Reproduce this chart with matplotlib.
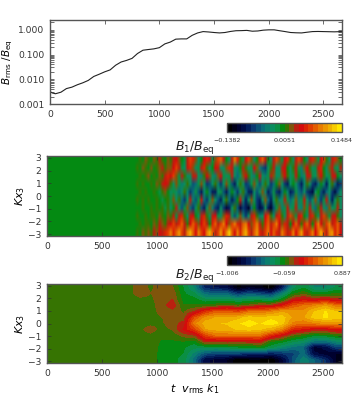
#!/usr/bin/env python3
"""Field growth: rms field history and two space-time maps. Saves out.png."""
import numpy as np
import matplotlib
matplotlib.use("Agg")
import matplotlib.pyplot as plt
from matplotlib.colors import LinearSegmentedColormap

# top panel
t_rms = [0, 20, 50, 100, 150, 200, 250, 300, 350, 400, 450, 500, 550, 600, 650,
         700, 750, 800, 850, 900, 950, 1000, 1050, 1100, 1150, 1200, 1250, 1300,
         1350, 1400, 1450, 1500, 1550, 1600, 1650, 1700, 1750, 1800, 1850, 1900,
         1950, 2000, 2050, 2100, 2150, 2200, 2250, 2300, 2350, 2400, 2450, 2500,
         2550, 2600, 2670]
b_rms = [.0032, .0028, .0026, .003, .0042, .0048, .006, .0072, .009, .013, .016,
         .02, .024, .037, .05, .058, .07, .11, .15, .16, .17, .19, .27, .32, .42,
         .43, .43, .6, .75, .85, .82, .78, .75, .78, .86, .92, .93, .95, .88, .9,
         .97, 1.0, 1.0, .92, .85, .78, .76, .75, .8, .85, .86, .85, .84, .83, .85]

# B1 map in units of 0.01, rows from the top of the panel down, columns t=800.. by 25
b1_rows = [
    [0,1,0,2,1,0,2,1,3,1,0,2,  1,3,5,2,0,-1,4,7,6,2,  -2,0,5,6,3,-1,2,7,8,3,  0,-2,4,9,6,1,-1,5,7,2,
     -3,0,6,8,4,0,-2,3,7,2,  -1,5,6,1,-3,4,7,3,0,-2,  3,6,2,-1,5,7,1,-2,4,6,  2,0],
    [1,0,2,1,0,2,0,1,2,3,1,2,  2,5,7,3,-1,-2,3,6,2,-3,  -1,4,6,1,-3,0,5,3,-2,-3,  2,6,3,-2,-4,0,4,1,-3,-1,
     5,2,-4,-6,-7,-3,1,4,-2,-3,  3,5,0,-3,1,4,-1,-4,2,5,  1,-3,-1,4,6,0,-3,2,4,-1,  -2,3],
    [0,1,0,1,2,0,1,0,2,1,4,6,  5,7,2,-1,3,1,-3,-2,4,3,  -2,-4,1,5,2,-3,-4,2,5,-1,  -3,-1,3,-2,-5,-3,2,5,1,-3,
     -4,0,3,-2,-4,-1,4,2,-3,-2,  2,5,1,-3,-1,3,0,-4,-2,3,  4,-1,-3,2,5,1,-3,-1,3,5,  0,-2],
    [1,0,1,0,0,1,0,2,1,3,5,3,  1,-2,2,-1,-4,-3,1,-2,-6,-5,  -1,2,-3,-7,-6,-2,1,-4,-7,-3,  2,-1,-6,-8,-3,1,-3,-7,-6,-1,
     2,-3,-6,-3,1,-2,-7,-5,0,2,  -3,-7,-8,-3,0,-2,-6,-8,-4,1,  -3,-7,-9,-5,0,-4,-8,-3,1,-5,  -9,-7],
    [0,1,0,1,0,0,1,0,-1,1,2,0,  -2,-1,-3,-5,-2,1,-4,-7,-5,-1,  -6,-8,-4,0,-5,-8,-9,-3,-1,-6,  -9,-5,0,-4,-7,-3,1,-5,-9,-8,
     -2,-6,-3,2,-4,-8,-6,-1,-7,-9,  -5,0,-4,-9,-7,-1,-5,-6,-2,-7,  -9,-10,-3,0,-6,-9,-5,-2,-7,-10,  -6,-3],
    [1,0,1,0,1,0,0,1,0,-1,0,1,  -1,2,-3,1,-5,-7,-2,3,-4,-6,  -1,3,-5,-7,-2,2,-3,-6,-8,-2,  1,-5,-8,-6,0,3,-4,-8,-3,2,
     -3,-7,-9,-2,2,-5,-8,-3,1,-4,  -2,3,-1,-5,-2,2,-4,-1,3,-3,  -6,-2,2,-4,-7,-1,3,-4,-8,-3,  1,-2],
    [0,0,1,0,0,1,0,1,0,1,-1,1,  -2,0,3,-3,-6,-1,2,-5,-7,-2,  1,-6,-8,-3,2,-4,-7,-9,-3,-7,  -10,-8,-2,1,-6,-10,-7,-9,-11,-5,
     0,-7,-10,-8,-3,-9,-11,-6,-1,2,  -4,-1,3,-3,-1,4,-2,-4,2,-1,  3,-3,-5,1,4,-2,-4,2,-3,-1,  3,-2],
    [1,0,0,1,0,1,1,0,2,1,0,2,  1,3,-1,4,6,1,-2,3,5,0,  -2,4,6,1,-3,3,5,-1,-3,2,  6,3,-3,-6,-2,2,-4,-7,-3,3,
     6,1,-4,-2,5,7,1,-2,3,6,  1,-2,4,7,2,-1,5,6,0,-3,  3,6,1,-2,4,7,2,-1,3,5,  1,-2],
    [0,1,0,1,1,0,2,1,3,2,1,3,  5,7,3,6,8,4,1,5,8,6,  2,5,7,3,0,6,8,4,7,9,  5,2,7,9,6,3,8,10,5,2,
     7,9,4,1,6,8,3,7,9,5,  2,6,4,0,5,8,3,1,6,8,  4,0,6,9,5,2,7,9,4,6,  8,3],
    [1,0,2,1,2,1,3,2,5,4,6,7,  9,6,8,11,7,4,9,12,8,5,  10,7,5,9,12,8,4,7,11,6,  9,13,8,5,10,6,9,12,7,4,
     8,11,6,3,7,10,5,8,6,4,  9,7,3,6,10,5,8,11,6,3,  7,10,5,8,12,7,4,9,11,6,  8,5],
]
b1_quiet_columns = 32  # t=0..800 is flat

# B2 map, rows from x3=3 to x3=-3 by 0.5, one list per time t=800..2600 by 100
b2_columns = [
    [.05, .05, .01, 0, 0, 0, 0, 0, 0, 0, 0, 0, 0],
    [.01, .02, .01, 0, 0, 0, 0, .06, 0, 0, 0, 0, 0],
    [.05, .06, .05, .05, .04, .02, .01, -.01, -.04, -.07, -.09, -.10, -.10],
    [.03, .08, .10, .17, .07, .05, .06, .03, -.03, -.07, -.11, -.12, -.12],
    [-.14, -.12, -.09, -.05, .01, .05, .14, .20, .05, -.06, -.12, -.14, -.16],
    [-.32, -.20, -.10, -.05, .12, .42, .55, .36, .10, -.10, -.20, -.32, -.42],
    [-.65, -.42, -.20, -.04, .32, .60, .70, .64, .38, .13, -.20, -.50, -.75],
    [-.70, -.45, -.20, 0, .44, .66, .72, .68, .50, .12, -.20, -.55, -.80],
    [-.75, -.45, -.20, .05, .44, .66, .74, .70, .50, .14, -.18, -.55, -.85],
    [-.95, -.60, -.25, 0, .38, .70, .80, .74, .50, .12, -.15, -.55, -1.0],
    [-.85, -.50, -.20, .05, .50, .78, .85, .78, .50, .14, -.15, -.60, -.95],
    [-.90, -.55, -.20, .12, .50, .74, .80, .74, .50, .17, -.10, -.60, -.95],
    [-1.0, -.60, -.25, .12, .55, .78, .87, .68, .30, -.05, -.20, -.65, -1.0],
    [-.70, -.35, -.10, .24, .64, .78, .78, .55, .17, -.10, -.30, -.60, -.80],
    [-.25, -.08, .15, .42, .60, .64, .55, .30, .02, -.20, -.40, -.55, -.50],
    [-.15, 0, .20, .50, .60, .64, .50, .24, -.05, -.25, -.45, -.40, -.30],
    [-.30, -.12, .15, .55, .74, .78, .55, .17, -.12, -.40, -.80, -.75, -.45],
    [-.30, -.10, .20, .64, .82, .82, .60, .17, -.10, -.40, -.75, -.80, -.60],
    [-.20, -.05, .12, .50, .74, .78, .60, .24, -.05, -.30, -.55, -.85, -.85],
]
b2_quiet_columns = 8  # t=0..800 is flat

b1_range = [-0.1382, 0.0051, 0.1484]
b2_range = [-1.006, -0.059, 0.887]
x_ticks = [0, 500, 1000, 1500, 2000, 2500]
y_ticks = [-3, -2, -1, 0, 1, 2, 3]
rms_ticks = [0.001, 0.01, 0.1, 1.0]

T_MAX = 2670
W, H = 360, 400
EDGE = "#555555"

CMAP = LinearSegmentedColormap.from_list("idl", [
    (0.00, "#000000"), (0.08, "#00002c"), (0.15, "#001050"), (0.22, "#0a3a72"),
    (0.30, "#0a6a7a"), (0.38, "#0a8c66"), (0.44, "#0a9040"), (0.48, "#048a10"),
    (0.53, "#407000"), (0.58, "#9a4a10"), (0.63, "#d20010"), (0.72, "#de3000"),
    (0.82, "#e87800"), (0.92, "#f0b400"), (1.00, "#ffe800")], N=24)


def px_axes(fig, left, top, right, bottom):
    return fig.add_axes([left / W, 1 - bottom / H, (right - left) / W, (bottom - top) / H])


def style(ax):
    for s in ax.spines.values():
        s.set_color(EDGE)
        s.set_linewidth(1.0)
    ax.tick_params(which="both", direction="in", top=True, right=True, length=3,
                   width=0.5, labelsize=6.6, labelcolor="#333333", color="#333333", pad=4)


def draw_map(fig, rect, data, vrange, title, bar_top):
    ax = px_axes(fig, *rect)
    im = ax.imshow(data, extent=(0, T_MAX, -3.14, 3.14), aspect="auto", cmap=CMAP,
                   vmin=vrange[0], vmax=vrange[2], interpolation="bilinear")
    ax.set_xticks(x_ticks)
    ax.set_yticks(y_ticks)
    ax.set_ylabel(r"$\mathit{Kx}_3$", fontsize=8, labelpad=1)
    style(ax)
    ax.set_title(title, fontsize=9, pad=0.5, color="#222222")

    cax = px_axes(fig, 227, bar_top, 342, bar_top + 8.5)
    cb = fig.colorbar(im, cax=cax, orientation="horizontal")
    cb.set_ticks(vrange, labels=[f"{v:g}".replace("-", "\u2212") for v in vrange])
    cb.ax.tick_params(length=0, labelsize=4.6, pad=4.5, labelcolor="#333333")
    cb.outline.set_edgecolor(EDGE)
    cb.outline.set_linewidth(1.0)
    return ax


def main():
    fig = plt.figure(figsize=(W / 100, H / 100), dpi=100)

    ax = px_axes(fig, 50, 20, 342, 104)
    ax.semilogy(t_rms, b_rms, color="#222222", lw=0.8)
    ax.set_xlim(0, T_MAX)
    ax.set_ylim(0.001, 2.5)
    ax.set_xticks(x_ticks)
    ax.set_yticks(rms_ticks, labels=["0.001", "0.010", "0.100", "1.000"])
    ax.set_ylabel(r"$B_{\mathrm{rms}}\ /B_{\mathrm{eq}}$", fontsize=7.5, labelpad=2)
    style(ax)

    b1 = np.array(b1_rows) / 100
    b1 = np.hstack([np.zeros((b1.shape[0], b1_quiet_columns)), b1])
    draw_map(fig, (47, 156, 342, 236), b1, b1_range, r"$B_1/B_{\mathrm{eq}}$", 123)

    b2 = np.array(b2_columns).T
    b2 = np.hstack([np.zeros((b2.shape[0], b2_quiet_columns)), b2])
    ax3 = draw_map(fig, (47, 284, 342, 363), b2, b2_range, r"$B_2/B_{\mathrm{eq}}$", 256)
    ax3.set_xlabel(r"$t\ \ v_{\mathrm{rms}}\ k_1$", fontsize=8, labelpad=3)

    fig.savefig("out.png", dpi=100)


if __name__ == "__main__":
    main()
